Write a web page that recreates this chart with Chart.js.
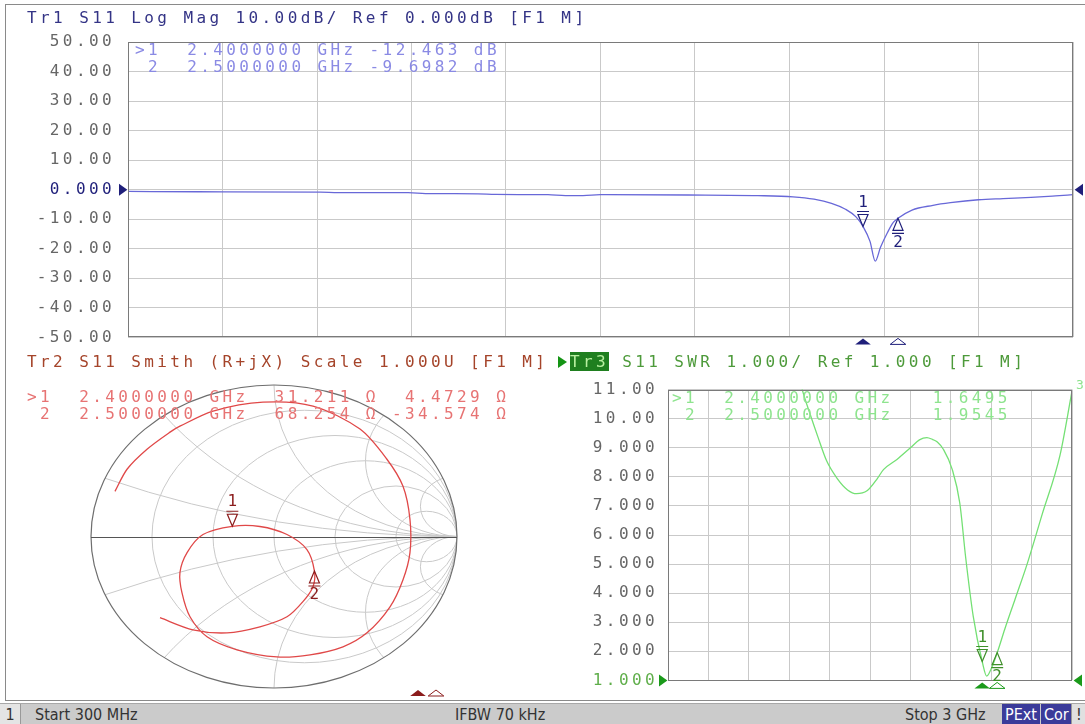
<!DOCTYPE html>
<html>
<head>
<meta charset="utf-8">
<script src="https://cdn.jsdelivr.net/npm/chart.js@4/dist/chart.umd.min.js"></script>
<style>
body { margin:0; background:#fff; width:1085px; height:724px; overflow:hidden; position:relative; font-family:"DejaVu Sans Mono", monospace; }
canvas { position:absolute; }
.t { position:absolute; white-space:pre; font-size:16px; letter-spacing:3.4px; line-height:17px; }
#frame { position:absolute; left:5px; top:4px; width:1100px; height:697px; border:1px solid #8a8a8a; box-sizing:border-box; }
#status { position:absolute; left:0; top:703px; width:1085px; height:21px; background:#cbcbcb; border-top:1px solid #a8a8a8; font-family:"Liberation Sans Narrow","DejaVu Sans Condensed","Liberation Sans",sans-serif; font-stretch:condensed; font-size:16px; color:#333; }
#status span, #status div { position:absolute; top:0; height:21px; line-height:21px; white-space:pre; }
.box { background:#3b3b9a; color:#fff; padding:0 3px; }
.tri { position:absolute; width:0; height:0; border-top:6px solid transparent; border-bottom:6px solid transparent; border-left:9px solid #149414; }
</style>
</head>
<body>
<div id="frame"></div>
<canvas id="cTop" width="1085" height="360" style="left:0;top:0"></canvas>
<canvas id="cSmith" width="560" height="330" style="left:0;top:370px"></canvas>
<canvas id="cSwr" width="525" height="330" style="left:560px;top:370px"></canvas>

<div class="t" style="left:27px;top:9px;color:#343486">Tr1 S11 Log Mag 10.00dB/ Ref 0.000dB [F1 M]</div>
<div class="t" style="left:135px;top:41px;color:#8a8ae4">&gt;1  2.4000000 GHz -12.463 dB
 2  2.5000000 GHz -9.6982 dB</div>

<div class="t" style="left:27px;top:353px;color:#a5442a">Tr2 S11 Smith (R+jX) Scale 1.000U [F1 M]</div>
<div class="tri" style="left:558px;top:356px"></div>
<div class="t" style="left:27px;top:388px;color:#e77373">&gt;1  2.4000000 GHz  31.211 Ω  4.4729 Ω
 2  2.5000000 GHz  68.254 Ω -34.574 Ω</div>

<div class="t" style="left:570px;top:353px;color:#4d9a3a"><span style="background:#1f7f1f;color:#b8f0a0">Tr3</span> S11 SWR 1.000/ Ref 1.000 [F1 M]</div>
<div class="t" style="left:672px;top:389px;color:#8ee48e">&gt;1  2.4000000 GHz   1.6495
 2  2.5000000 GHz   1.9545</div>
<div class="t" style="left:1076px;top:376px;color:#8ee48e;font-size:13px">3</div>

<div id="status">
  <div style="left:0;width:20px;background:#e4e4e4;text-align:center;border-right:1px solid #999">1</div>
  <span style="left:35px">Start 300 MHz</span>
  <span style="left:455px">IFBW 70 kHz</span>
  <span style="left:905px">Stop 3 GHz</span>
  <div class="box" style="left:1002px">PExt</div>
  <div class="box" style="left:1041px">Cor</div>
  <div style="left:1071px;width:14px;background:#e0e0e0;border-left:1px solid #999;text-align:center">!</div>
</div>

<script>
// sweep 300 MHz .. 3 GHz, 10 divisions
const freqGrid = [0.3, 0.57, 0.84, 1.11, 1.38, 1.65, 1.92, 2.19, 2.46, 2.73, 3.0];

// Tr1 log mag (GHz, dB)
const topFreq = [0.3, 0.5, 0.85, 0.9, 1.1, 1.15, 1.3, 1.35, 1.5, 1.55, 1.6, 1.65, 1.9, 2.1, 2.2, 2.26, 2.31, 2.35, 2.38, 2.4, 2.42, 2.435, 2.45, 2.47, 2.485, 2.5, 2.54, 2.6, 2.65, 2.73, 2.8, 2.88, 2.95, 3.0];
const topDb = [-0.6, -0.7, -0.8, -1.0, -1.0, -1.3, -1.4, -1.6, -1.7, -2.0, -2.0, -1.7, -1.8, -2.0, -2.4, -3.2, -4.6, -6.6, -9.2, -12.46, -17.5, -24.2, -19.5, -14.5, -11.3, -9.7, -6.9, -5.3, -4.4, -3.4, -3.0, -2.6, -2.1, -1.7];

// Tr3 SWR
const swrFreq = [1.1, 1.2, 1.25, 1.3, 1.36, 1.43, 1.5, 1.56, 1.63, 1.7, 1.74, 1.83, 1.92, 1.98, 2.03, 2.07, 2.1, 2.14, 2.2, 2.25, 2.29, 2.34, 2.4, 2.43, 2.46, 2.5, 2.55, 2.62, 2.7, 2.8, 2.92, 3.0];
const swrVal = [13.0, 10.95, 10.15, 9.4, 8.55, 7.95, 7.55, 7.42, 7.52, 7.95, 8.25, 8.6, 9.0, 9.27, 9.35, 9.28, 9.2, 8.95, 8.25, 7.1, 5.2, 3.2, 1.65, 1.15, 1.4, 1.95, 2.75, 3.8, 5.0, 6.7, 8.75, 10.95];

// Tr2 smith, reflection coefficient re / im
const smithRe = [-0.869, -0.803, -0.694, -0.568, -0.514, -0.333, -0.060, 0.213, 0.470, 0.617, 0.705, 0.743, 0.743, 0.705, 0.634, 0.508, 0.377, 0.197, 0.016, -0.202, -0.366, -0.459, -0.503, -0.514, -0.475, -0.388, -0.228, -0.077, 0.071, 0.180, 0.221, 0.213, 0.158, 0.071, -0.077, -0.257, -0.443, -0.623];
const smithIm = [0.298, 0.444, 0.576, 0.689, 0.728, 0.828, 0.887, 0.861, 0.709, 0.510, 0.331, 0.113, -0.106, -0.285, -0.464, -0.636, -0.728, -0.781, -0.795, -0.748, -0.662, -0.530, -0.371, -0.238, -0.106, 0.013, 0.067, 0.066, 0.013, -0.086, -0.228, -0.331, -0.430, -0.530, -0.596, -0.636, -0.616, -0.536];

// markers
const markerFreq = [2.4, 2.5];
const markerDb = [-12.463, -9.6982];
const markerSwr = [1.6495, 1.9545];
const markerR = [31.211, 68.254];
const markerX = [4.4729, -34.574];
const z0 = 50;

const smithR = [0.2, 0.5, 1, 2, 5];
const smithXarcs = [0.2, 0.5, 1, 2, 5];

const gridColor = '#c9c9c9';
const tickFont = { family: 'DejaVu Sans Mono', size: 16 };

const spacing = {
  id: 'spacing',
  beforeLayout(chart) { chart.ctx.letterSpacing = '3.4px'; },
  beforeDraw(chart) { chart.ctx.letterSpacing = '3.4px'; }
};

const frame = {
  id: 'frame',
  afterDraw(chart) {
    const a = chart.chartArea, ctx = chart.ctx;
    ctx.save();
    ctx.strokeStyle = '#7a7a7a';
    ctx.lineWidth = 1;
    ctx.strokeRect(Math.round(a.left) + 0.5, Math.round(a.top) + 0.5, Math.round(a.right - a.left) - 1, Math.round(a.bottom - a.top) - 1);
    ctx.restore();
  }
};

function tri(ctx, x, y, dir, size, color, filled) {
  ctx.save();
  ctx.beginPath();
  if (dir === 'right') { ctx.moveTo(x, y - size); ctx.lineTo(x + size * 1.4, y); ctx.lineTo(x, y + size); }
  if (dir === 'left') { ctx.moveTo(x, y - size); ctx.lineTo(x - size * 1.4, y); ctx.lineTo(x, y + size); }
  if (dir === 'up') { ctx.moveTo(x - size * 1.3, y + size); ctx.lineTo(x, y); ctx.lineTo(x + size * 1.3, y + size); }
  ctx.closePath();
  ctx.lineWidth = 1;
  if (filled) { ctx.fillStyle = color; ctx.fill(); }
  else { ctx.fillStyle = '#fff'; ctx.fill(); ctx.strokeStyle = color; ctx.stroke(); }
  ctx.restore();
}

function marker(ctx, x, y, n, color, down) {
  ctx.save();
  ctx.strokeStyle = color;
  ctx.fillStyle = color;
  ctx.lineWidth = 1.2;
  const s = down ? -1 : 1;
  ctx.beginPath();
  ctx.moveTo(x - 6, y + s * 15); ctx.lineTo(x + 6, y + s * 15);
  ctx.moveTo(x - 5, y + s * 12); ctx.lineTo(x + 5, y + s * 12); ctx.lineTo(x, y); ctx.closePath();
  ctx.stroke();
  ctx.letterSpacing = '0px';
  ctx.font = '16px "DejaVu Sans Mono"';
  ctx.textAlign = 'center';
  ctx.textBaseline = 'middle';
  ctx.fillText(String(n), x, y + s * 24);
  ctx.restore();
}

const topMarks = {
  id: 'topMarks',
  afterDraw(chart) {
    const ctx = chart.ctx, a = chart.chartArea, xs = chart.scales.x, ys = chart.scales.y;
    const navy = '#1f1f7a';
    const y0 = ys.getPixelForValue(0);
    tri(ctx, a.left - 9, y0, 'right', 6, navy, true);
    tri(ctx, a.right + 10, y0, 'left', 6, navy, true);
    markerFreq.forEach((f, i) => {
      const x = xs.getPixelForValue(f), y = ys.getPixelForValue(markerDb[i]);
      marker(ctx, x, y, i + 1, navy, i === 0);
      tri(ctx, x, a.bottom + 1, 'up', 6, navy, i === 0);
    });
  }
};

const swrMarks = {
  id: 'swrMarks',
  afterDraw(chart) {
    const ctx = chart.ctx, a = chart.chartArea, xs = chart.scales.x, ys = chart.scales.y;
    const g = '#1a9a1a';
    const y1 = ys.getPixelForValue(1);
    tri(ctx, a.left - 9, y1, 'right', 6, g, true);
    tri(ctx, a.right + 10, y1, 'left', 6, g, true);
    markerFreq.forEach((f, i) => {
      const x = xs.getPixelForValue(f), y = ys.getPixelForValue(markerSwr[i]);
      marker(ctx, x, y, i + 1, '#3f8f2a', i === 0);
      tri(ctx, x, a.bottom + 2, 'up', 6, g, i === 0);
    });
  }
};

function gammaOf(r, x) {
  const zr = r / z0, zx = x / z0;
  const d = (zr + 1) * (zr + 1) + zx * zx;
  return { x: ((zr - 1) * (zr + 1) + zx * zx) / d, y: (zx * (zr + 1) - (zr - 1) * zx) / d };
}

const smithGrid = {
  id: 'smithGrid',
  beforeDatasetsDraw(chart) {
    const ctx = chart.ctx, xs = chart.scales.x, ys = chart.scales.y;
    const cx = xs.getPixelForValue(0), cy = ys.getPixelForValue(0);
    const rx = xs.getPixelForValue(1) - cx, ry = cy - ys.getPixelForValue(1);
    ctx.save();
    ctx.beginPath();
    ctx.ellipse(cx, cy, rx, ry, 0, 0, Math.PI * 2);
    ctx.clip();
    ctx.strokeStyle = gridColor;
    ctx.lineWidth = 1;
    smithR.forEach(r => {
      ctx.beginPath();
      ctx.ellipse(cx + rx * r / (r + 1), cy, rx / (r + 1), ry / (r + 1), 0, 0, Math.PI * 2);
      ctx.stroke();
    });
    smithXarcs.forEach(x => {
      [1, -1].forEach(s => {
        ctx.beginPath();
        ctx.ellipse(cx + rx, cy - s * ry / x, rx / x, ry / x, 0, 0, Math.PI * 2);
        ctx.stroke();
      });
    });
    ctx.restore();
    ctx.save();
    ctx.strokeStyle = '#6e6e6e';
    ctx.lineWidth = 1.2;
    ctx.beginPath();
    ctx.ellipse(cx, cy, rx, ry, 0, 0, Math.PI * 2);
    ctx.stroke();
    ctx.beginPath();
    ctx.moveTo(cx - rx, Math.round(cy) + 0.5);
    ctx.lineTo(cx + rx, Math.round(cy) + 0.5);
    ctx.strokeStyle = '#555';
    ctx.lineWidth = 1;
    ctx.stroke();
    ctx.restore();
  },
  afterDraw(chart) {
    const ctx = chart.ctx, xs = chart.scales.x, ys = chart.scales.y;
    const dr = '#8b1c1c';
    markerR.forEach((r, i) => {
      const g = gammaOf(r, markerX[i]);
      marker(ctx, xs.getPixelForValue(g.x), ys.getPixelForValue(g.y), i + 1, dr, i === 0);
      // frequency strip under the smith window
      const sx = 40 + (markerFreq[i] - 0.3) / 2.7 * 486;
      tri(ctx, sx, chart.chartArea.bottom + 2, 'up', 6, dr, i === 0);
    });
  }
};

new Chart(document.getElementById('cTop'), {
  type: 'line',
  data: { datasets: [{
    data: topFreq.map((f, i) => ({ x: f, y: topDb[i] })),
    borderColor: '#6868d8', borderWidth: 1.3, pointRadius: 0, cubicInterpolationMode: 'monotone'
  }] },
  options: {
    responsive: false, animation: false, devicePixelRatio: 1,
    layout: { padding: { left: 28, right: 12, top: 42, bottom: 20 } },
    plugins: { legend: { display: false }, tooltip: { enabled: false } },
    scales: {
      x: { type: 'linear', min: 0.3, max: 3.0,
        afterBuildTicks: s => { s.ticks = freqGrid.map(v => ({ value: v })); },
        afterFit: s => { s.height = 0; },
        ticks: { display: false }, grid: { color: gridColor, drawTicks: false }, border: { display: false } },
      y: { min: -50, max: 50,
        afterFit: s => { s.width = 100; },
        ticks: { stepSize: 10, padding: 13, font: tickFont,
          color: c => c.tick.value === 0 ? '#1f1f7a' : '#666',
          callback: v => v === 0 ? '0.000' : v.toFixed(2) },
        grid: { color: gridColor, drawTicks: false }, border: { display: false } }
    }
  },
  plugins: [spacing, frame, topMarks]
});

new Chart(document.getElementById('cSmith'), {
  type: 'scatter',
  data: { datasets: [{
    data: smithRe.map((r, i) => ({ x: r, y: smithIm[i] })),
    showLine: true, borderColor: '#e04848', borderWidth: 1.3, pointRadius: 0, tension: 0.3
  }] },
  options: {
    responsive: false, animation: false, devicePixelRatio: 1,
    layout: { padding: { left: 91, right: 103, top: 15, bottom: 12 } },
    plugins: { legend: { display: false }, tooltip: { enabled: false } },
    scales: {
      x: { display: false, min: -1, max: 1 },
      y: { display: false, min: -1, max: 1 }
    }
  },
  plugins: [smithGrid]
});

new Chart(document.getElementById('cSwr'), {
  type: 'line',
  data: { datasets: [{
    data: swrFreq.map((f, i) => ({ x: f, y: swrVal[i] })),
    borderColor: '#74e074', borderWidth: 1.3, pointRadius: 0, cubicInterpolationMode: 'monotone'
  }] },
  options: {
    responsive: false, animation: false, devicePixelRatio: 1,
    layout: { padding: { left: 8, right: 13, top: 15, bottom: 13 } },
    plugins: { legend: { display: false }, tooltip: { enabled: false } },
    scales: {
      x: { type: 'linear', min: 0.3, max: 3.0,
        afterBuildTicks: s => { s.ticks = freqGrid.map(v => ({ value: v })); },
        afterFit: s => { s.height = 0; },
        ticks: { display: false }, grid: { color: gridColor, drawTicks: false }, border: { display: false } },
      y: { min: 1, max: 11,
        afterFit: s => { s.width = 100; },
        ticks: { stepSize: 1, padding: 10, font: tickFont,
          color: c => c.tick.value === 1 ? '#5fae4a' : '#666',
          callback: v => v >= 10 ? v.toFixed(2) : v.toFixed(3) },
        grid: { color: gridColor, drawTicks: false }, border: { display: false } }
    }
  },
  plugins: [spacing, frame, swrMarks]
});
</script>
</body>
</html>
